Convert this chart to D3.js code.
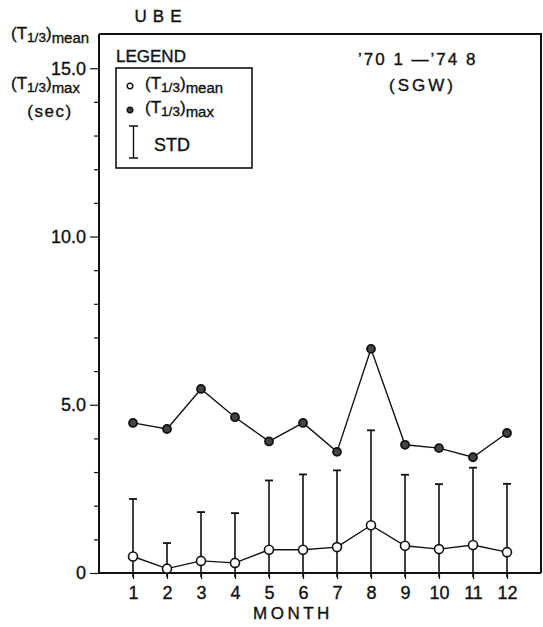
<!DOCTYPE html>
<html>
<head>
<meta charset="utf-8">
<script src="https://cdn.jsdelivr.net/npm/d3@7"></script>
<style>
  body { margin: 0; background: #fff; }
  svg { display: block; font-family: "Liberation Sans", "DejaVu Sans", sans-serif; }
  text { fill: #111; stroke: #111; stroke-width: 0.35px; }
</style>
</head>
<body>
<svg id="chart" width="543" height="627"></svg>
<script>
// values
const months = [1, 2, 3, 4, 5, 6, 7, 8, 9, 10, 11, 12];
const tMax = [4.46, 4.28, 5.47, 4.63, 3.91, 4.46, 3.60, 6.66, 3.81, 3.71, 3.44, 4.16];
const tMean = [0.49, 0.13, 0.36, 0.30, 0.69, 0.69, 0.77, 1.42, 0.81, 0.71, 0.83, 0.62];
const tStd = [1.71, 0.76, 1.45, 1.48, 2.06, 2.24, 2.28, 2.82, 2.11, 1.93, 2.30, 2.03];
const yTicks = [0, 5, 10, 15];
const yTickLabels = ["0", "5.0", "10.0", "15.0"];

const svg = d3.select("#chart");
const pLeft = 99, pRight = 541, pTop = 34, pBottom = 573;

const x = d3.scaleLinear().domain([0, 13]).range([pLeft, pRight]);
const y = d3.scaleLinear().domain([0, 15]).range([pBottom, pBottom - 15 * 33.65]);

// frame (top and right sides)
svg.append("path")
  .attr("d", `M${pLeft},${pTop}H${pRight}V${pBottom}`)
  .attr("fill", "none").attr("stroke", "#111").attr("stroke-width", 2);

// y axis, minor ticks every 1.0
const yAxis = d3.axisLeft(y).tickValues(d3.range(0, 16)).tickSize(5)
  .tickFormat(d => { const i = yTicks.indexOf(d); return i >= 0 ? yTickLabels[i] : ""; });
const gy = svg.append("g").attr("transform", `translate(${pLeft},0)`).call(yAxis);
gy.attr("font-family", null);
gy.select(".domain").attr("stroke", "#111").attr("stroke-width", 2)
  .attr("d", `M0,${pTop}V${pBottom}`);
gy.selectAll(".tick line").attr("stroke", "#111").attr("stroke-width", 1.2)
  .attr("x2", d => yTicks.includes(d) ? -9 : -5);
gy.selectAll(".tick text").attr("x", -13).attr("font-size", 18).attr("fill", "#111");

// x axis
const xAxis = d3.axisBottom(x).tickValues(months).tickSize(6).tickPadding(7);
const gx = svg.append("g").attr("transform", `translate(0,${pBottom})`).call(xAxis);
gx.attr("font-family", null);
gx.select(".domain").attr("stroke", "#111").attr("stroke-width", 2)
  .attr("d", `M${pLeft},0H${pRight}`);
gx.selectAll(".tick line").attr("stroke", "#111").attr("stroke-width", 1.2);
gx.selectAll(".tick text").attr("font-size", 18).attr("fill", "#111");

svg.append("text").attr("x", 293).attr("y", 619).attr("text-anchor", "middle")
  .attr("font-size", 17).attr("letter-spacing", 3.5).text("MONTH");

// error bars (STD)
const cap = 4;
months.forEach((m, i) => {
  const hi = tMean[i] + tStd[i];
  const lo = Math.max(0, tMean[i] - tStd[i]);
  svg.append("line").attr("x1", x(m)).attr("x2", x(m))
    .attr("y1", y(hi)).attr("y2", y(lo) + 4)
    .attr("stroke", "#111").attr("stroke-width", 1.6);
  svg.append("line").attr("x1", x(m) - cap).attr("x2", x(m) + cap)
    .attr("y1", y(hi)).attr("y2", y(hi))
    .attr("stroke", "#111").attr("stroke-width", 1.8);
});

// lines
const line = d3.line().x(d => x(d[0])).y(d => y(d[1]));
svg.append("path").datum(d3.zip(months, tMax)).attr("d", line)
  .attr("fill", "none").attr("stroke", "#111").attr("stroke-width", 1.4);
svg.append("path").datum(d3.zip(months, tMean)).attr("d", line)
  .attr("fill", "none").attr("stroke", "#111").attr("stroke-width", 1.4);

// markers
svg.selectAll("circle.max").data(d3.zip(months, tMax)).join("circle")
  .attr("class", "max").attr("cx", d => x(d[0])).attr("cy", d => y(d[1])).attr("r", 4)
  .attr("fill", "#444").attr("stroke", "#111").attr("stroke-width", 1.8);
svg.selectAll("circle.mean").data(d3.zip(months, tMean)).join("circle")
  .attr("class", "mean").attr("cx", d => x(d[0])).attr("cy", d => y(d[1])).attr("r", 4.5)
  .attr("fill", "#fff").attr("stroke", "#111").attr("stroke-width", 1.6);

// T1/3 label with subscripts
function tLabel(g, px, py, sub, size) {
  const t = g.append("text").attr("x", px).attr("y", py).attr("font-size", size);
  t.append("tspan").text("(T");
  t.append("tspan").attr("font-size", size * 0.8).attr("dy", size * 0.2).text("1/3");
  t.append("tspan").attr("dy", -size * 0.2).text(")");
  t.append("tspan").attr("font-size", size * 0.88).attr("dy", size * 0.22).text(sub);
  return t;
}

// titles and axis labels
svg.append("text").attr("x", 161).attr("y", 22).attr("text-anchor", "middle")
  .attr("font-size", 17).attr("letter-spacing", 6).text("UBE");
tLabel(svg, 11, 39, "mean", 17);
tLabel(svg, 11, 89, "max", 17);
svg.append("text").attr("x", 50).attr("y", 117).attr("text-anchor", "middle")
  .attr("font-size", 17).attr("letter-spacing", 1.5).text("(sec)");

svg.append("text").attr("x", 358).attr("y", 65).attr("font-size", 17)
  .attr("letter-spacing", 2).text("\u201970 1 \u2014\u201974 8");
svg.append("text").attr("x", 389).attr("y", 91).attr("font-size", 17)
  .attr("letter-spacing", 3).text("(SGW)");

// legend
svg.append("text").attr("x", 116).attr("y", 62).attr("font-size", 17).text("LEGEND");
svg.append("rect").attr("x", 116).attr("y", 68).attr("width", 136).attr("height", 100)
  .attr("fill", "none").attr("stroke", "#111").attr("stroke-width", 1.6);
svg.append("circle").attr("cx", 130).attr("cy", 86).attr("r", 2.8)
  .attr("fill", "#fff").attr("stroke", "#111").attr("stroke-width", 1.4);
tLabel(svg, 145, 89, "mean", 17);
svg.append("circle").attr("cx", 130).attr("cy", 110).attr("r", 2.8)
  .attr("fill", "#444").attr("stroke", "#111").attr("stroke-width", 1.4);
tLabel(svg, 145, 113, "max", 17);
svg.append("path").attr("d", "M129,126H138M133.5,126V158M129,158H138")
  .attr("fill", "none").attr("stroke", "#111").attr("stroke-width", 1.4);
svg.append("text").attr("x", 154).attr("y", 151).attr("font-size", 18).text("STD");
</script>
</body>
</html>
